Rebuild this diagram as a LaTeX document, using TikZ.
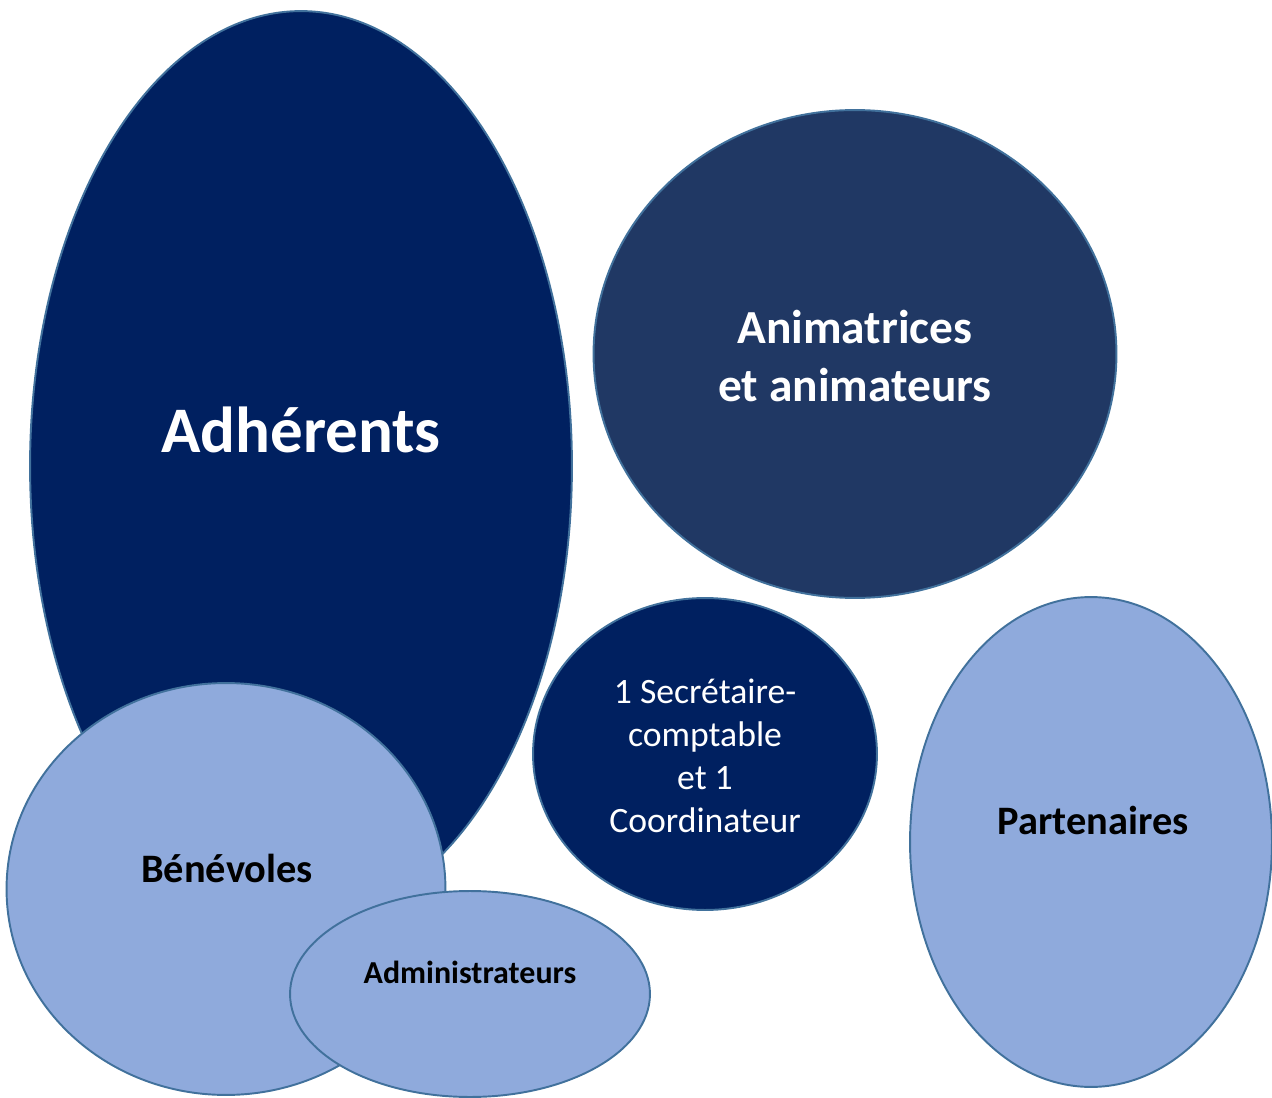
\documentclass[tikz,border=0pt]{standalone}
\usepackage{fontspec}
\setmainfont{Carlito}
\usetikzlibrary{shapes.geometric}
\usetikzlibrary{positioning}
\definecolor{marine}{HTML}{002060}
\definecolor{ardoise}{HTML}{203864}
\definecolor{ciel}{HTML}{8FAADC}
\definecolor{contour}{HTML}{41719C}

\tikzset{
  bulle/.style={ellipse, draw=contour, line width=1.1pt, inner sep=0pt},
  titre/.style={font=\bfseries, align=center}
}

\begin{document}
\begin{tikzpicture}[x=0.02cm, y=-0.02cm]
    \useasboundingbox (0,0) rectangle (1272,1098);

    \node[bulle, fill=marine, minimum width=10.84cm, minimum height=18.2cm] (adh) at (301,466) {};
    \node[bulle, fill=ardoise, minimum width=10.46cm, minimum height=9.76cm] (anim) at (855,354) {};
    \node[bulle, fill=marine, minimum width=6.88cm, minimum height=6.24cm] (secr) at (705,754) {};
    \node[bulle, fill=ciel, minimum width=7.24cm, minimum height=9.8cm] (part) at (1091,842) {};
    \node[bulle, fill=ciel, minimum width=8.78cm, minimum height=8.24cm] (bene) at (226,889) {};
    \node[bulle, fill=ciel, minimum width=7.2cm, minimum height=4.12cm] (admi) at (470,994) {};

    % Textes
    \node[titre, text=white, font=\fontsize{37}{44}\bfseries\selectfont] (tadh) at (301,430) {Adhérents};
    \node[titre, text=white, font=\fontsize{27}{33}\bfseries\selectfont] (tanim) at (855,356) {Animatrices\\et animateurs};
    \node[align=center, text=white, font=\fontsize{20.3}{24.5}\selectfont] (tsecr) at (705,756) {1 Secrétaire-\\comptable\\et 1\\Coordinateur};
    \node[titre, font=\fontsize{23}{28}\bfseries\selectfont] (tpart) at (1093,820) {Partenaires};
    \node[titre, font=\fontsize{23}{28}\bfseries\selectfont] (tbene) at (227,868) {Bénévoles};
    \node[titre, font=\fontsize{18.2}{22}\bfseries\selectfont] (tadmi) at (470,972) {Administrateurs};
\end{tikzpicture}
\end{document}
